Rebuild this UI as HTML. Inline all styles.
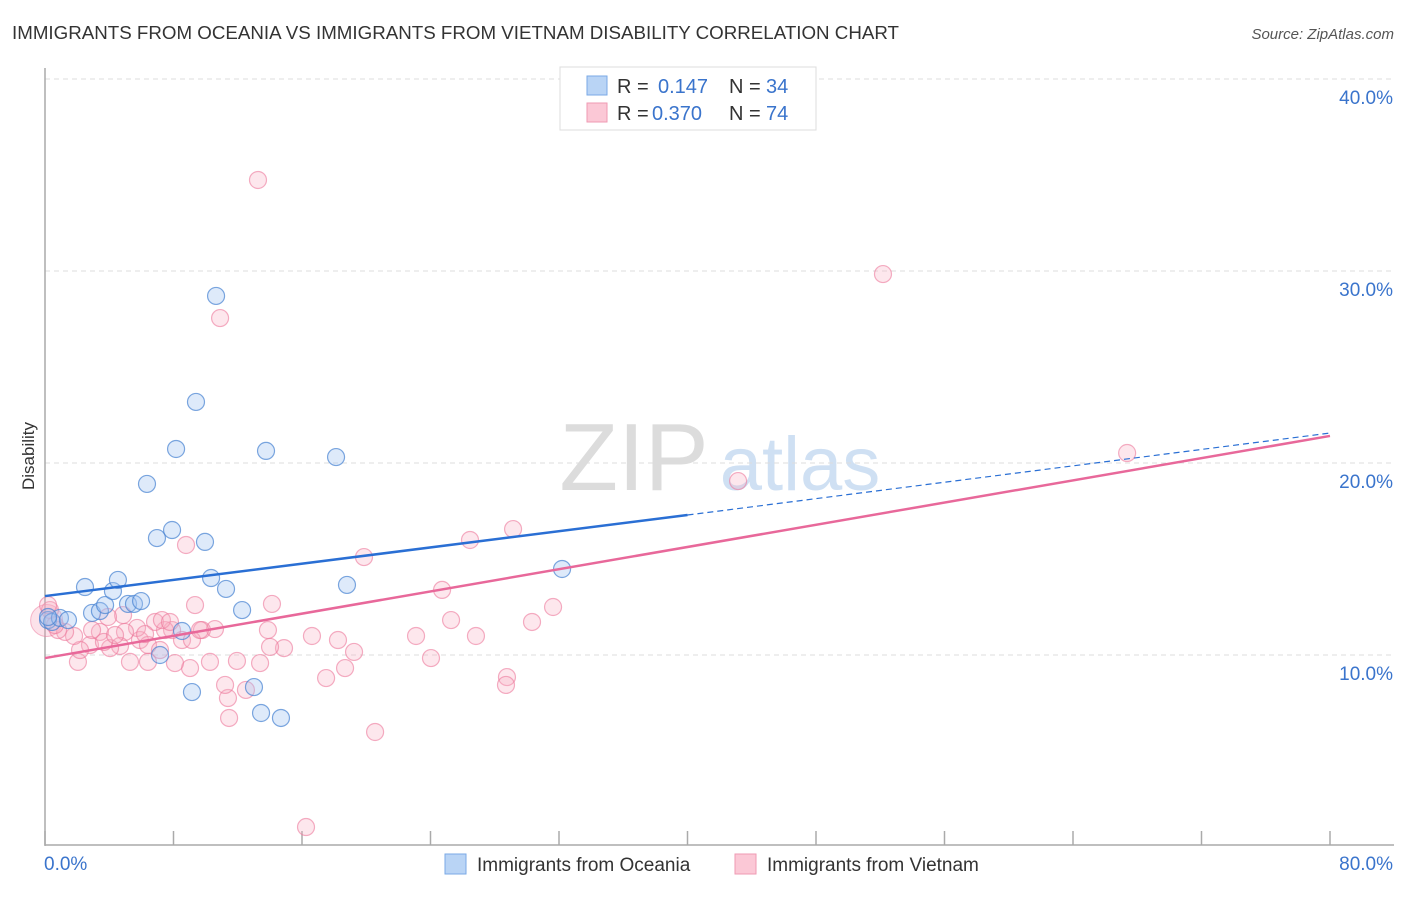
<!DOCTYPE html>
<html><head><meta charset="utf-8">
<style>
body{margin:0;background:#fff;font-family:"Liberation Sans",sans-serif;}
svg text{font-family:"Liberation Sans",sans-serif;}
</style></head>
<body>
<svg id="chart" width="1406" height="892" viewBox="0 0 1406 892" xmlns="http://www.w3.org/2000/svg">
<text x="12" y="39" font-size="18" fill="#333" textLength="887" lengthAdjust="spacingAndGlyphs">IMMIGRANTS FROM OCEANIA VS IMMIGRANTS FROM VIETNAM DISABILITY CORRELATION CHART</text>
<text x="1394" y="39" font-size="15" fill="#555" font-style="italic" text-anchor="end">Source: ZipAtlas.com</text>
<g>
<text x="634" y="490" font-size="96" fill="#dcdcdc" font-family="Liberation Serif" text-anchor="middle">ZIP</text>
<text x="800" y="490" font-size="76" fill="#cfe0f3" text-anchor="middle">atlas</text>
</g>
<g id="grid"></g>
<g id="axes"></g>
<g id="marks"></g>
<g id="lines"></g>
<g>
<rect x="560" y="67" width="256" height="63" fill="#fff" stroke="#ddd"/>
<rect x="587" y="76" width="20" height="19" fill="#b9d4f5" stroke="#7aa9e6"/>
<text x="617" y="93" font-size="20" fill="#333">R = </text><text x="658" y="93" font-size="20" fill="#3a74cc">0.147</text>
<text x="729" y="93" font-size="20" fill="#333">N = </text><text x="766" y="93" font-size="20" fill="#3a74cc">34</text>
<rect x="587" y="103" width="20" height="19" fill="#fbc8d6" stroke="#ef9ab3"/>
<text x="617" y="120" font-size="20" fill="#333">R = </text><text x="652" y="120" font-size="20" fill="#3a74cc">0.370</text>
<text x="729" y="120" font-size="20" fill="#333">N = </text><text x="766" y="120" font-size="20" fill="#3a74cc">74</text>
</g>
<g>
<rect x="445" y="854" width="21" height="20" fill="#b9d4f5" stroke="#7aa9e6"/>
<text x="477" y="871" font-size="19" fill="#333">Immigrants from Oceania</text>
<rect x="735" y="854" width="21" height="20" fill="#fbc8d6" stroke="#ef9ab3"/>
<text x="767" y="871" font-size="19" fill="#333">Immigrants from Vietnam</text>
</g>
<text transform="translate(34,456) rotate(-90)" font-size="17" fill="#333" text-anchor="middle">Disability</text>
</svg>
<script>
const yTicks=[10,20,30,40];
const yTickLabels=["10.0%","20.0%","30.0%","40.0%"];
const xTicks=[0,8,16,24,32,40,48,56,64,72,80];
const xEndLabels=["0.0%","80.0%"];
const oceaniaX=[0.19,0.44,0.93,1.43,2.49,2.93,3.42,3.74,4.23,4.54,5.17,5.54,5.98,6.35,6.97,7.16,7.91,8.16,8.53,9.15,9.40,9.96,10.34,10.65,11.27,12.27,13.01,13.45,13.76,14.69,18.12,18.80,32.19,0.19];
const oceaniaY=[11.82,11.72,11.93,11.82,13.54,12.19,12.29,12.60,13.33,13.91,12.66,12.66,12.81,18.91,16.09,10.0,16.51,20.73,11.25,8.07,23.18,15.89,14.01,28.70,13.44,12.34,8.33,6.98,20.63,6.72,20.31,13.65,14.48,11.98];
const vietnamX=[13.26,10.90,52.17,67.37,43.15,29.14,26.46,8.78,19.86,24.72,31.63,14.13,25.28,30.32,26.83,23.10,16.62,18.24,19.24,24.03,18.68,17.50,28.76,28.70,20.55,16.25,11.46,11.39,11.21,12.51,13.39,11.95,10.27,9.03,8.09,6.41,5.29,2.05,13.88,14.88,14.01,10.58,9.77,8.53,7.91,7.47,6.85,7.28,5.91,5.73,4.98,4.67,4.05,3.42,2.80,2.18,1.81,1.25,0.81,0.31,0.19,0.62,2.93,3.67,4.36,6.41,7.16,9.15,9.65,6.23,7.78,4.86,3.92,9.34];
const vietnamY=[34.74,27.55,29.84,20.52,19.06,16.56,15.99,15.73,15.10,13.39,12.50,12.66,11.82,11.72,10.99,10.99,10.99,10.78,10.16,9.84,9.32,8.80,8.85,8.44,5.99,1.04,6.72,7.76,8.44,8.18,9.58,9.69,9.64,9.32,9.58,9.64,9.64,9.64,11.30,10.36,10.42,11.35,11.30,10.78,11.30,11.30,11.72,11.82,10.78,11.41,11.20,10.47,10.36,11.20,10.52,10.26,10.99,11.20,11.30,12.34,12.60,11.56,11.30,10.68,11.04,10.52,10.26,10.78,11.30,11.09,11.72,12.08,11.98,12.60];
const oceaniaTrend=[13.07,17.29,21.56]; // at x=0,40,80
const vietnamTrend=[9.84,21.41]; // at x=0,80

const NS="http://www.w3.org/2000/svg";
const X0=45,X1=1330,Y0=847,PX_PER=19.2;
const sx=v=>X0+(v/80)*(X1-X0);
const sy=v=>Y0-v*PX_PER;
function mk(tag,attrs,parent){const e=document.createElementNS(NS,tag);for(const k in attrs)e.setAttribute(k,attrs[k]);parent.appendChild(e);return e;}
const grid=document.getElementById('grid'),axes=document.getElementById('axes'),marks=document.getElementById('marks'),lines=document.getElementById('lines');
yTicks.forEach((t,i)=>{
 const l=mk('line',{x1:X0,x2:1394,y1:sy(t),y2:sy(t),stroke:'#ddd','stroke-dasharray':'5,4'},grid);
 
 
 const tx=mk('text',{x:1393,y:sy(t)+25,'font-size':19,fill:'#3a74cc','text-anchor':'end'},axes);
 tx.textContent=yTickLabels[i];
 
 
});
const ya=mk('line',{x1:X0,x2:X0,y1:68,y2:846,stroke:'#aaa','stroke-width':1.5},axes);


const xa=mk('line',{x1:X0,x2:1394,y1:845,y2:845,stroke:'#aaa','stroke-width':1.5},axes);


xTicks.forEach(t=>{
 const k=mk('line',{x1:sx(t),x2:sx(t),y1:831,y2:845,stroke:'#aaa','stroke-width':1.5},axes);
 
 
});
const xl0=mk('text',{x:44,y:870,'font-size':19,fill:'#3a74cc'},axes);xl0.textContent=xEndLabels[0];


const xl1=mk('text',{x:1393,y:870,'font-size':19,fill:'#3a74cc','text-anchor':'end'},axes);xl1.textContent=xEndLabels[1];


const big=mk('circle',{cx:sx(0.1),cy:sy(11.8),r:16,fill:'rgba(246,160,185,0.3)',stroke:'rgba(236,120,155,0.5)'},marks);


vietnamX.forEach((v,i)=>{
 const c=mk('circle',{cx:sx(v),cy:sy(vietnamY[i]),r:8.5,fill:'rgba(248,175,197,0.3)',stroke:'rgba(236,120,155,0.6)','stroke-width':1.2},marks);
 
 
});
oceaniaX.forEach((v,i)=>{
 const c=mk('circle',{cx:sx(v),cy:sy(oceaniaY[i]),r:8.5,fill:'rgba(160,196,240,0.35)',stroke:'rgba(70,130,210,0.7)','stroke-width':1.2},marks);
 
 
});
const bl=mk('line',{x1:sx(0),y1:sy(oceaniaTrend[0]),x2:sx(40),y2:sy(oceaniaTrend[1]),stroke:'#2a6fd4','stroke-width':2.5},lines);


const bd=mk('line',{x1:sx(40),y1:sy(oceaniaTrend[1]),x2:sx(80),y2:sy(oceaniaTrend[2]),stroke:'#2a6fd4','stroke-width':1.2,'stroke-dasharray':'6,4'},lines);


const pl=mk('line',{x1:sx(0),y1:sy(vietnamTrend[0]),x2:sx(80),y2:sy(vietnamTrend[1]),stroke:'#e8689a','stroke-width':2.5},lines);


</script>
</body></html>
